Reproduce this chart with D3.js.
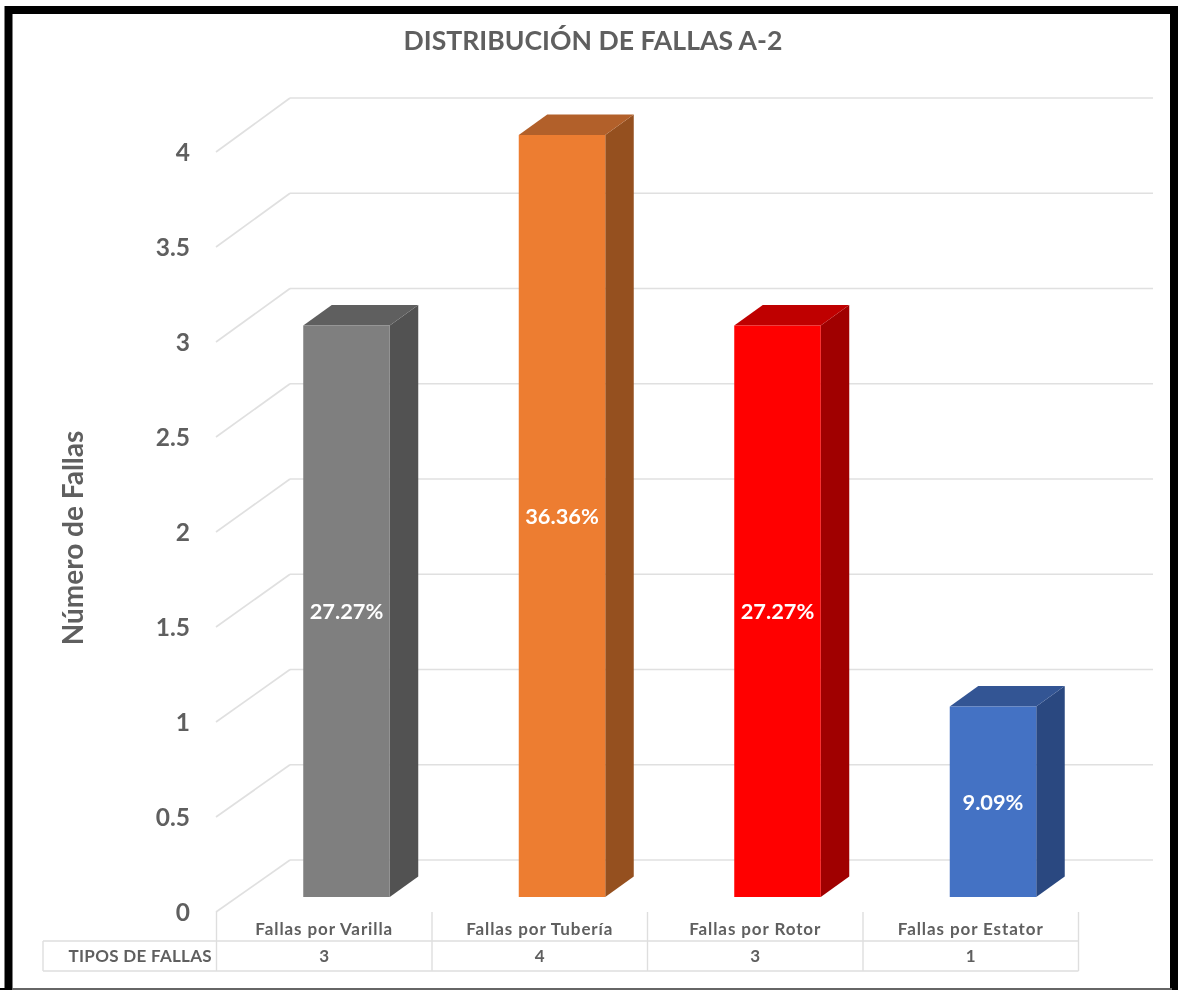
<!DOCTYPE html>
<html><head><meta charset="utf-8">
<script src="https://cdn.jsdelivr.net/npm/d3@7/dist/d3.min.js"></script>
<style>html,body{margin:0;padding:0;background:#fff;overflow:hidden}svg{display:block;filter:blur(0.45px)}text{font-family:Lato,"Open Sans",sans-serif}</style>
</head><body><svg id="c" width="1178" height="990"></svg>
<script>
const categories=["Fallas por Varilla","Fallas por Tubería","Fallas por Rotor","Fallas por Estator"];
const values=[3,4,3,1];
const percentLabels=["27.27%","36.36%","27.27%","9.09%"];
const frontColors=["#7f7f7f","#ed7d31","#ff0000","#4472c4"];
const sideColors=["#525252","#95501f","#a00000","#2a4880"];
const topColors=["#5f5f5f","#b2602a","#bf0000","#335594"];
const yTicks=[0,0.5,1,1.5,2,2.5,3,3.5,4];
const title="DISTRIBUCIÓN DE FALLAS A-2", yTitle="Número de Fallas", rowTitle="TIPOS DE FALLAS";

const svg=d3.select("#c"), txt="#5f5f5f", grid="#e0e0e0";
// frame
svg.append("rect").attr("x",8.5).attr("y",10).attr("width",1165.5).attr("height",1000).attr("fill","#fff").attr("stroke","#000").attr("stroke-width",8);
svg.append("rect").attr("x",0).attr("y",0).attr("width",1178).attr("height",6).attr("fill","#fff");
svg.append("rect").attr("x",0).attr("y",6).attr("width",4).attr("height",984).attr("fill","#fff");
svg.append("rect").attr("x",12).attr("y",988).attr("width",1160).attr("height",2).attr("fill","#666");
svg.append("rect").attr("x",0).attr("y",988).attr("width",12).attr("height",2).attr("fill","#000");

const dx=74, dy=-52;          // wall depth
const yFront=d3.scaleLinear().domain([0,4]).range([912,152]);
const yBack=d3.scaleLinear().domain([0,4]).range([860,98]);
const yBar=d3.scaleLinear().domain([0,4]).range([897,135]);
const x=d3.scaleBand().domain(categories).range([216.5,1078.5]);
const barW=86.5, barDx=28.5, barDy=-20.5, barOff=x.bandwidth()/2-21;

// gridlines
const g=svg.append("g");
g.selectAll(".back").data(yTicks).join("line").attr("x1",290).attr("x2",1153)
 .attr("y1",d=>yBack(d)).attr("y2",d=>yBack(d)).attr("stroke",grid).attr("stroke-width",1.7);
g.selectAll(".diag").data(yTicks).join("line").attr("x1",216).attr("x2",290)
 .attr("y1",d=>yFront(d)).attr("y2",d=>yBack(d)).attr("stroke",grid).attr("stroke-width",1.7);

// axis labels
const axis=svg.append("g").attr("transform","translate(190,1)")
 .call(d3.axisLeft(yFront).tickValues(yTicks).tickSize(0).tickPadding(0).tickFormat(d=>String(d)));
axis.select(".domain").remove();
axis.selectAll("text").attr("fill",txt).style("font-family","Lato,sans-serif").style("font-size","24.5px").style("font-weight","700");

// bars
const bars=svg.selectAll(".bar").data(categories.map((c,i)=>({c,i,v:values[i]}))).join("g");
const bx=d=>x(d.c)+barOff;
bars.append("path").attr("fill",d=>sideColors[d.i]).attr("d",d=>{
  const X=bx(d)+barW,t=yBar(d.v),b=yBar(0);
  return `M${X},${t}L${X+barDx},${t+barDy}L${X+barDx},${b+barDy}L${X},${b}Z`;});
bars.append("path").attr("fill",d=>topColors[d.i]).attr("d",d=>{
  const X=bx(d),t=yBar(d.v);
  return `M${X},${t}L${X+barDx},${t+barDy}L${X+barW+barDx},${t+barDy}L${X+barW},${t}Z`;});
bars.append("rect").attr("fill",d=>frontColors[d.i]).attr("x",bx).attr("width",barW)
  .attr("y",d=>yBar(d.v)).attr("height",d=>yBar(0)-yBar(d.v));
bars.append("text").text(d=>percentLabels[d.i]).attr("x",d=>bx(d)+barW/2).attr("y",d=>(yBar(d.v)+yBar(0))/2)
  .attr("dy","0.36em").attr("text-anchor","middle").attr("fill","#fff").attr("font-weight",700).attr("font-size",21.8);

// data table
const tbl=svg.append("g"), rows=[912,941,971], lc="#dedede";
tbl.append("line").attr("x1",43).attr("x2",1078.5).attr("y1",rows[1]).attr("y2",rows[1]).attr("stroke",lc).attr("stroke-width",1.4);
tbl.append("line").attr("x1",43).attr("x2",1078.5).attr("y1",rows[2]).attr("y2",rows[2]).attr("stroke",lc).attr("stroke-width",1.4);
tbl.append("line").attr("x1",43).attr("x2",43).attr("y1",rows[1]).attr("y2",rows[2]).attr("stroke",lc).attr("stroke-width",1.4);
tbl.selectAll(".v").data([...categories.map(c=>x(c)),x(categories[3])+x.bandwidth()]).join("line")
 .attr("x1",d=>d).attr("x2",d=>d).attr("y1",rows[0]).attr("y2",rows[2]).attr("stroke",lc).attr("stroke-width",1.4);
categories.forEach((c,i)=>{
  tbl.append("text").text(c).attr("x",x(c)+x.bandwidth()/2).attr("y",935).attr("text-anchor","middle")
   .attr("fill",txt).attr("font-weight",700).attr("font-size",17).attr("letter-spacing",0.9);
  tbl.append("text").text(values[i]).attr("x",x(c)+x.bandwidth()/2).attr("y",962).attr("text-anchor","middle")
   .attr("fill",txt).attr("font-weight",700).attr("font-size",17);
});
tbl.append("text").text(rowTitle).attr("x",212).attr("y",962).attr("text-anchor","end")
 .attr("fill",txt).attr("font-weight",700).attr("font-size",17).attr("letter-spacing",0.3);

// titles
svg.append("text").text(title).attr("x",593).attr("y",50).attr("text-anchor","middle")
 .attr("fill",txt).attr("font-weight",700).attr("font-size",26.6);
svg.append("text").text(yTitle).attr("transform","translate(83,538) rotate(-90)").attr("text-anchor","middle")
 .attr("fill",txt).attr("font-weight",700).attr("font-size",28);
</script></body></html>
